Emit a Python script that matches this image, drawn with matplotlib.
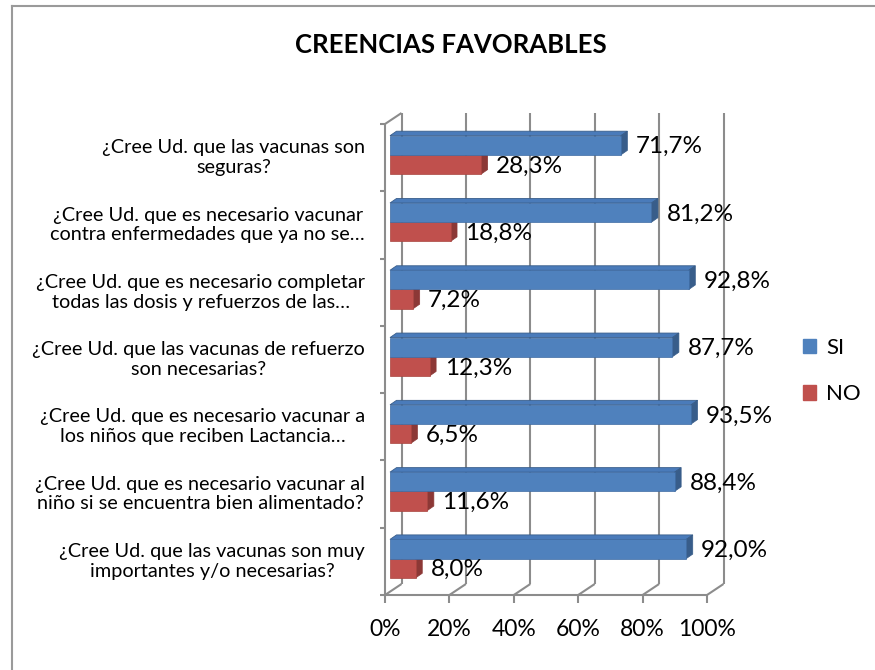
import matplotlib
matplotlib.use("Agg")
import matplotlib.pyplot as plt
from matplotlib.patches import Polygon, Patch
from matplotlib.lines import Line2D

plt.rcParams['font.family'] = ['Lato', 'DejaVu Sans']

titulo = "CREENCIAS FAVORABLES"
preguntas = [
    "¿Cree Ud. que las vacunas son\nseguras?",
    "¿Cree Ud. que es necesario vacunar\ncontra enfermedades que ya no se…",
    "¿Cree Ud. que es necesario completar\ntodas las dosis y refuerzos de las…",
    "¿Cree Ud. que las vacunas de refuerzo\nson necesarias?",
    "¿Cree Ud. que es necesario vacunar a\nlos niños que reciben Lactancia…",
    "¿Cree Ud. que es necesario vacunar al\nniño si se encuentra bien alimentado?",
    "¿Cree Ud. que las vacunas son muy\nimportantes y/o necesarias?",
]
si = [71.7, 81.2, 92.8, 87.7, 93.5, 88.4, 92.0]
no = [28.3, 18.8, 7.2, 12.3, 6.5, 11.6, 8.0]
ticks = [0, 20, 40, 60, 80, 100]
series = ["SI", "NO"]

BLUE, BLUE_TOP, BLUE_SIDE, BLUE_EDGE = "#4F81BD", "#4A7BBA", "#385D8A", "#3E6BA3"
RED, RED_SIDE, RED_EDGE = "#C0504D", "#8C3836", "#A9443F"
GRID = "#8C8C8C"

fig = plt.figure(figsize=(8.75, 6.7), dpi=100)
n_cat = len(preguntas)
ax = fig.add_axes([385 / 875, 75 / 670, 322 / 875, 471 / 670])
ax.set_xlim(0, 100)
ax.set_ylim(n_cat, 0)
ax.axis('off')

# pixel -> data helpers
PX = 100 / 322
PY = n_cat / 471

wall_dx, wall_dy = 16.5 * PX, 11 * PY
bar_x0 = 5 * PX
bar_dx, bar_dy = 6.5 * PX, 4.5 * PY
bar_h = 19.2 * PY
bar_off = 11.7 * PY

# walls / grid
kw = dict(color=GRID, lw=1.5, clip_on=False, zorder=1, solid_capstyle='butt')
for t in ticks:
    ax.plot([t + wall_dx] * 2, [-wall_dy, n_cat - wall_dy], **kw)
    ax.plot([t, t + wall_dx], [n_cat, n_cat - wall_dy], **kw)
    ax.plot([t, t], [n_cat, n_cat + 8 * PY], **kw)
ax.plot([0, 100], [n_cat, n_cat], **kw)
ax.plot([0, 0], [0, n_cat], **kw)
ax.plot([0, wall_dx], [0, -wall_dy], **kw)
for k in range(n_cat + 1):
    ax.plot([-5 * PX, 0], [k, k], **kw)


def lbl(v):
    return f"{v:.1f}".replace('.', ',') + '%'


for i in range(n_cat):
    y_b = i + bar_off
    y_r = y_b + bar_h
    s, n = si[i], no[i]
    # NO bar
    xr = bar_x0 + n
    ax.add_patch(Polygon([(xr, y_r), (xr + bar_dx, y_r - bar_dy),
                          (xr + bar_dx, y_r + bar_h - bar_dy), (xr, y_r + bar_h)],
                         closed=True, fc=RED_SIDE, ec=RED_SIDE, lw=0.5,
                         clip_on=False, zorder=2))
    ax.barh(y_r, n, height=bar_h, left=bar_x0, align='edge', color=RED,
            edgecolor=RED_EDGE, lw=0.5, zorder=3, clip_on=False)
    # SI bar
    xb = bar_x0 + s
    ax.add_patch(Polygon([(bar_x0, y_b), (bar_x0 + bar_dx, y_b - bar_dy),
                          (xb + bar_dx, y_b - bar_dy), (xb, y_b)],
                         closed=True, fc=BLUE_TOP, ec=BLUE_SIDE, lw=0.6,
                         clip_on=False, zorder=4))
    ax.add_patch(Polygon([(xb, y_b), (xb + bar_dx, y_b - bar_dy),
                          (xb + bar_dx, y_b + bar_h - bar_dy), (xb, y_b + bar_h)],
                         closed=True, fc=BLUE_SIDE, ec=BLUE_SIDE, lw=0.5,
                         clip_on=False, zorder=4))
    ax.barh(y_b, s, height=bar_h, left=bar_x0, align='edge', color=BLUE,
            edgecolor=BLUE_EDGE, lw=0.5, zorder=5, clip_on=False)

    ax.text(xb + 15 * PX, y_b + bar_h / 2 + 1.5 * PY, lbl(s), ha='left',
            va='center', fontsize=17.5, zorder=6)
    ax.text(xr + 15 * PX, y_r + bar_h / 2 + 1.5 * PY, lbl(n), ha='left',
            va='center', fontsize=17.5, zorder=6)

    ax.text(-20 * PX, i + 0.5, preguntas[i], ha='right', va='center',
            multialignment='center', fontsize=14.3, linespacing=1.2)

for t in ticks:
    ax.text(t, n_cat + 35 * PY, f"{t}%", ha='center', va='center', fontsize=16.5)

fig.text(451 / 875, 1 - 45 / 670, titulo, ha='center', va='center',
         fontsize=18.5, fontweight='bold')

handles = [Patch(color=BLUE), Patch(color=RED)]
fig.legend(handles, series, loc='center left',
           bbox_to_anchor=(803 / 875, 1 - 371 / 670), frameon=False,
           fontsize=16, handlelength=0.6, handleheight=0.6,
           handletextpad=0.45, labelspacing=1.2, borderaxespad=0, borderpad=0)

# outer frame (top and left edges visible)
fig.add_artist(Line2D([11.5 / 875, 11.5 / 875], [0, 1 - 6 / 670],
                      transform=fig.transFigure, color="#9A9A9A", lw=1.5))
fig.add_artist(Line2D([11.5 / 875, 1], [1 - 6 / 670, 1 - 6 / 670],
                      transform=fig.transFigure, color="#9A9A9A", lw=1.5))

fig.savefig("out.png", dpi=100)
